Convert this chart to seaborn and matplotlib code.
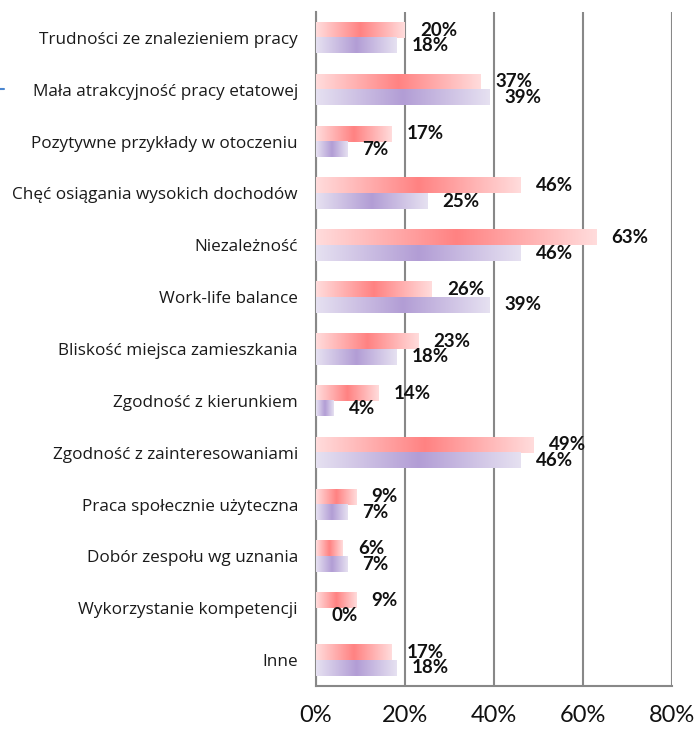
import numpy as np
import pandas as pd
import matplotlib
matplotlib.use("Agg")
import matplotlib.pyplot as plt
import seaborn as sns
from matplotlib.colors import LinearSegmentedColormap
from matplotlib.lines import Line2D

CATEGORIES = [
    "Trudności ze znalezieniem pracy",
    "Mała atrakcyjność pracy etatowej",
    "Pozytywne przykłady w otoczeniu",
    "Chęć osiągania wysokich dochodów",
    "Niezależność",
    "Work-life balance",
    "Bliskość miejsca zamieszkania",
    "Zgodność z kierunkiem",
    "Zgodność z zainteresowaniami",
    "Praca społecznie użyteczna",
    "Dobór zespołu wg uznania",
    "Wykorzystanie kompetencji",
    "Inne",
]
SERIES = ["Seria 1", "Seria 2"]
SERIES_1 = [20, 37, 17, 46, 63, 26, 23, 14, 49, 9, 6, 9, 17]
SERIES_2 = [18, 39, 7, 25, 46, 39, 18, 4, 46, 7, 7, 0, 18]
X_TICKS = [0, 20, 40, 60, 80]

# gradient colours per series: (edge, centre)
GRADIENTS = {
    "Seria 1": ("#ffdcdc", "#ff8282"),
    "Seria 2": ("#e6e1f1", "#b29dd5"),
}

df = pd.DataFrame({
    "kategoria": CATEGORIES * 2,
    "seria": [SERIES[0]] * len(CATEGORIES) + [SERIES[1]] * len(CATEGORIES),
    "wartosc": SERIES_1 + SERIES_2,
})

sns.set_style("white")
plt.rcParams["font.family"] = ["Open Sans", "DejaVu Sans"]

fig = plt.figure(figsize=(6.97, 7.30), dpi=100)
ax = fig.add_axes([0.4534, 0.0603, 0.5106, 0.9233])

sns.barplot(data=df, y="kategoria", x="wartosc", hue="seria", hue_order=SERIES,
            order=CATEGORIES, orient="h", width=0.6, legend=False,
            palette=["#ff8282", "#b29dd5"], ax=ax)

grad = np.linspace(0, 1, 256)[None, :]
for container, name in zip(ax.containers, SERIES):
    edge, centre = GRADIENTS[name]
    cmap = LinearSegmentedColormap.from_list(name, [edge, centre, edge])
    for bar in container:
        bar.set_facecolor("none")
        bar.set_edgecolor("none")
        w = bar.get_width()
        if w <= 0:
            continue
        x0, y0, h = bar.get_x(), bar.get_y(), bar.get_height()
        ax.imshow(grad, cmap=cmap, aspect="auto", zorder=3,
                  extent=[x0, x0 + w, y0 + h, y0], interpolation="bilinear")
    vals = [int(round(b.get_width())) for b in container]
    ax.bar_label(container, labels=[f"{v}%" for v in vals], padding=11,
                 fontsize=13.5, fontweight="bold", family=["Lato", "DejaVu Sans"],
                 color="#111111", zorder=5)

ax.set_xlim(0, 80)
ax.set_ylim(len(CATEGORIES) - 0.5, -0.5)
ax.set_xticks(X_TICKS)
ax.set_xticklabels([f"{t}%" for t in X_TICKS], fontsize=17, family=["Lato", "DejaVu Sans"])
ax.set_xlabel("")
ax.set_ylabel("")

grid_col = "#888888"
ax.xaxis.grid(True, color=grid_col, linewidth=1.5, zorder=0)
ax.set_axisbelow(True)
for s in ["top", "right"]:
    ax.spines[s].set_visible(False)
for s in ["left", "bottom"]:
    ax.spines[s].set_color(grid_col)
    ax.spines[s].set_linewidth(1.5)

ax.tick_params(axis="y", which="major", length=0, pad=13, labelsize=12.3, labelcolor="#1a1a1a")
ax.set_yticks(np.arange(-0.5, len(CATEGORIES), 1.0), minor=True)
ax.tick_params(axis="y", which="minor", length=4, width=1.5, color=grid_col, direction="out")
ax.tick_params(axis="x", which="major", length=6, width=1.5, color=grid_col, pad=8,
               direction="out", labelcolor="#111111")

# small blue mark at the left edge
fig.add_artist(Line2D([0, 4 / 697], [1 - 89 / 730] * 2, color="#4a86d0",
                      linewidth=1.5, transform=fig.transFigure))

fig.savefig("out.png", dpi=100)
